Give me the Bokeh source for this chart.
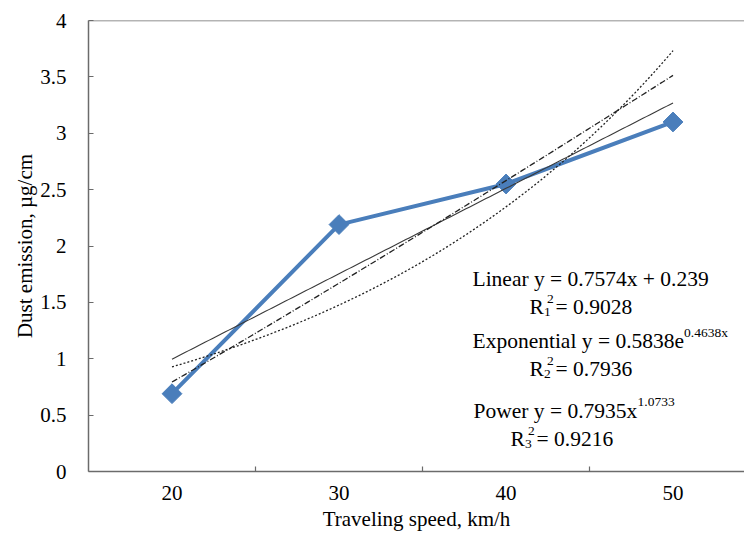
import numpy as np
from bokeh.plotting import figure
from bokeh.models import Range1d, FixedTicker, CustomJSTickFormatter, Span, Label
from bokeh.embed import file_html
from bokeh.resources import INLINE

# ---- data ----
speeds = ["20", "30", "40", "50"]          # km/h (categories)
x_idx = [1, 2, 3, 4]                        # category positions (Excel trendline x)
emission = [0.69, 2.19, 2.55, 3.10]         # µg/cm
y_ticks = [0, 0.5, 1, 1.5, 2, 2.5, 3, 3.5, 4]

lin_coef = [0.7574, 0.239]
lin_r2 = "0.9028"
exp_coef = [0.5838, 0.4638]
exp_r2 = "0.7936"
pow_coef = [0.7935, 1.0733]
pow_r2 = "0.9216"

FONT = "Liberation Serif"
FRAME = "#6b6b6b"

p = figure(width=744, height=542, x_range=Range1d(0.5, 4.428), y_range=Range1d(0, 4),
           output_backend="svg", toolbar_location=None,
           min_border_left=88, min_border_right=0, min_border_top=20, min_border_bottom=71)
p.outline_line_color = None
p.grid.visible = False
p.background_fill_color = "white"
p.border_fill_color = "white"

# top border
p.add_layout(Span(location=4, dimension="width", line_color=FRAME, line_width=1.5))

# x axis
xa = p.xaxis[0]
xa.ticker = FixedTicker(ticks=x_idx, minor_ticks=[1.5, 2.5, 3.5])
xa.major_label_overrides = {i: s for i, s in zip(x_idx, speeds)}
xa.major_tick_in = 0
xa.major_tick_out = 0
xa.minor_tick_in = 5
xa.minor_tick_out = 0
xa.minor_tick_line_color = FRAME
xa.minor_tick_line_width = 1.2
xa.axis_line_color = FRAME
xa.axis_line_width = 1.5
xa.major_label_text_font = FONT
xa.major_label_text_font_size = "21px"
xa.major_label_text_color = "black"
xa.major_label_standoff = 14
xa.axis_label = "Traveling speed, km/h"
xa.axis_label_text_font = FONT
xa.axis_label_text_font_size = "21px"
xa.axis_label_text_font_style = "normal"
xa.axis_label_text_color = "black"
xa.axis_label_standoff = 4

# y axis
ya = p.yaxis[0]
ya.ticker = FixedTicker(ticks=y_ticks, minor_ticks=[])
ya.formatter = CustomJSTickFormatter(code="return tick.toString();")
ya.major_tick_in = 5
ya.major_tick_out = 0
ya.major_tick_line_color = FRAME
ya.major_tick_line_width = 1.2
ya.axis_line_color = FRAME
ya.axis_line_width = 1.5
ya.major_label_text_font = FONT
ya.major_label_text_font_size = "21px"
ya.major_label_text_color = "black"
ya.major_label_standoff = 22
ya.axis_label = "Dust emission, µg/cm"
ya.axis_label_text_font = FONT
ya.axis_label_text_font_size = "21px"
ya.axis_label_text_font_style = "normal"
ya.axis_label_text_color = "black"
ya.axis_label_standoff = 0

# measured series
p.line(x_idx, emission, line_color="#4a7ebb", line_width=4)
p.scatter(x_idx, emission, marker="square", angle=np.pi / 4, size=14,
          fill_color="#4a7ebb", line_color="#4a7ebb")

# trendlines from the displayed equations
xs = np.linspace(x_idx[0], x_idx[-1], 151)
p.line(xs, lin_coef[0] * xs + lin_coef[1], line_color="#3a3a3a", line_width=1.1)
p.line(xs, exp_coef[0] * np.exp(exp_coef[1] * xs), line_color="#222222",
       line_width=1.3, line_dash="2 2")
p.line(xs, pow_coef[0] * xs ** pow_coef[1], line_color="#222222",
       line_width=1.3, line_dash="6 2 1 2")

# ---- equation annotations (placed by pixel) ----
FL, FT, PXU, PYU = 88.0, 20.0, 656.0 / (4.428 - 0.5), 451.0 / 4.0


def put(px, py, text, size=21.5):
    p.add_layout(Label(x=0.5 + (px - FL) / PXU, y=4 - (py - FT) / PYU, text=text,
                       text_font=FONT, text_font_size=f"{size}px",
                       text_color="black", text_baseline="alphabetic",
                       text_align="left"))


def r2(px, py, idx, val):
    put(px, py, "R")
    put(px + 14.5, py + 5, idx, 13.5)
    put(px + 17.5, py - 8, "2", 13.5)
    put(px + 26, py, "= " + val)


put(472, 278, f"Linear y = {lin_coef[0]}x + {lin_coef[1]}")
r2(529, 306, "1", lin_r2)
put(472, 340, f"Exponential y = {exp_coef[0]}e")
put(683.5, 332, f"{exp_coef[1]}x", 13.5)
r2(529, 368, "2", exp_r2)
put(473, 410, f"Power y = {pow_coef[0]}x")
put(637, 401, f"{pow_coef[1]}", 13.5)
r2(510, 438, "3", pow_r2)

open("out.html", "w").write(file_html(p, INLINE))
